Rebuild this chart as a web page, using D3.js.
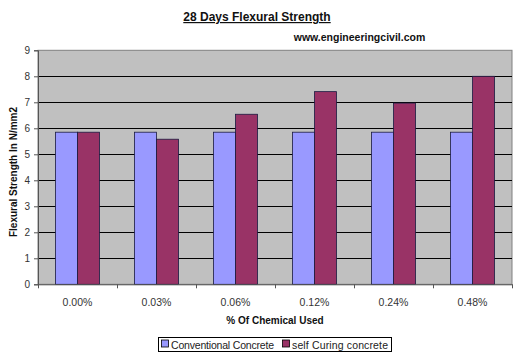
<!DOCTYPE html>
<html><head><meta charset="utf-8">
<script src="https://cdn.jsdelivr.net/npm/d3@7"></script>
<style>
html,body{margin:0;padding:0;background:#fff;}
svg{display:block;font-family:Arial,"Liberation Sans",sans-serif;}
</style></head>
<body>
<svg id="c" width="520" height="355"></svg>
<script>
const categories = ["0.00%","0.03%","0.06%","0.12%","0.24%","0.48%"];
const seriesNames = ["Conventional Concrete","self Curing concrete"];
const conventional = [5.85,5.85,5.85,5.85,5.85,5.85];
const selfCuring = [5.85,5.58,6.54,7.41,6.97,8.0];
const yTicks = [0,1,2,3,4,5,6,7,8,9];
const colors = ["#9999FF","#993366"];

const svg = d3.select("#c");
const m = {l:38, r:512, t:50.3, b:284.3};
const x = d3.scaleBand().domain(categories).range([m.l,m.r]).paddingInner(0).paddingOuter(0);
const y = d3.scaleLinear().domain([0,9]).range([m.b,m.t]);

svg.append("rect").attr("x",m.l).attr("y",m.t).attr("width",m.r-m.l).attr("height",m.b-m.t)
  .attr("fill","#C0C0C0").attr("stroke","#808080").attr("stroke-width",1);

// gridlines
svg.append("g").selectAll("line").data(yTicks.filter(d=>d>0 && d<9)).join("line")
  .attr("x1",m.l).attr("x2",m.r).attr("y1",d=>Math.round(y(d))+0.5).attr("y2",d=>Math.round(y(d))+0.5)
  .attr("stroke","#000").attr("stroke-width",1);

// bars
const bw = 22;
const data = categories.map((c,i)=>({c, v:[conventional[i], selfCuring[i]]}));
const g = svg.append("g");
data.forEach(d=>{
  const cx = x(d.c) + x.bandwidth()/2;
  d.v.forEach((v,j)=>{
    g.append("rect").attr("x", cx - bw + j*bw).attr("y", y(v)).attr("width", bw).attr("height", y(0)-y(v))
      .attr("fill", colors[j]).attr("stroke","#1a1a40").attr("stroke-width",0.8);
  });
});

// y axis
const ya = d3.axisLeft(y).tickValues(yTicks).tickSize(4).tickPadding(4).tickFormat(d3.format("d"));
const yg = svg.append("g").attr("transform",`translate(${m.l},0)`).call(ya);
yg.select(".domain").attr("stroke","#555");
yg.selectAll(".tick line").attr("stroke","#555");
yg.selectAll("text").attr("font-size","10px").attr("fill","#333").attr("font-family","Arial,'Liberation Sans',sans-serif");

// x axis
const xa = d3.axisBottom(x).tickSize(0).tickPadding(14);
const xg = svg.append("g").attr("transform",`translate(0,${m.b})`).call(xa);
xg.select(".domain").attr("stroke","#555");
xg.selectAll("text").attr("font-size","10.5px").attr("fill","#333").attr("font-family","Arial,'Liberation Sans',sans-serif");
// boundary ticks
xg.selectAll(".bt").data(d3.range(categories.length+1)).join("line").attr("class","bt")
  .attr("x1",i=>Math.round(m.l + i*x.bandwidth())+0.5).attr("x2",i=>Math.round(m.l + i*x.bandwidth())+0.5)
  .attr("y1",0).attr("y2",4).attr("stroke","#555");

// titles
svg.append("text").attr("x",257).attr("y",21).attr("text-anchor","middle")
  .attr("font-size","12px").attr("font-weight","bold").attr("text-decoration","underline")
  .attr("fill","#111").text("28 Days Flexural Strength");
svg.append("text").attr("x",359.5).attr("y",41).attr("text-anchor","middle")
  .attr("font-size","10.5px").attr("font-weight","bold").attr("fill","#111").text("www.engineeringcivil.com");
svg.append("text").attr("transform","translate(17,172) rotate(-90)").attr("text-anchor","middle")
  .attr("font-size","10px").attr("font-weight","bold").attr("fill","#111").text("Flexural Strength In N/mm2");
svg.append("text").attr("x",275).attr("y",324).attr("text-anchor","middle")
  .attr("font-size","10px").attr("font-weight","bold").attr("fill","#111").text("% Of Chemical Used");

// legend
const lg = svg.append("g");
lg.append("rect").attr("x",158.5).attr("y",337.5).attr("width",233).attr("height",14)
  .attr("fill","#fff").attr("stroke","#000").attr("stroke-width",1);
const lx = [161.5, 282.5];
const lw = [103, 96];
seriesNames.forEach((n,i)=>{
  lg.append("rect").attr("x",lx[i]).attr("y",340).attr("width",7).attr("height",7)
    .attr("fill",colors[i]).attr("stroke","#000").attr("stroke-width",0.8);
  lg.append("text").attr("x",lx[i]+9.5).attr("y",348.5).attr("font-size","10.5px")
    .attr("textLength",lw[i]).attr("lengthAdjust","spacing").attr("fill","#222").text(n);
});
</script>
</body></html>
